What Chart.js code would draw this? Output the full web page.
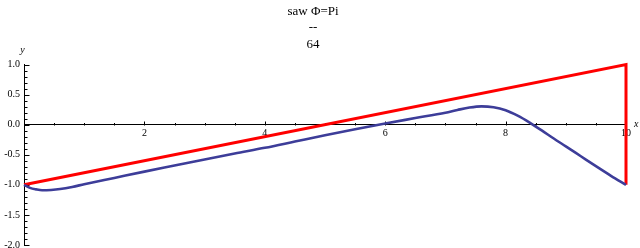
<!DOCTYPE html>
<html><head><meta charset="utf-8">
<script src="https://cdn.jsdelivr.net/npm/chart.js@4"></script>
<style>html,body{margin:0;padding:0;background:#fff}</style>
</head><body>
<canvas id="c" width="640" height="248"></canvas>
<script>
// ---- data ----
const titleLines = ['saw \u03A6=Pi', '--', '64'];
const sawX = [0, 10, 10];
const sawY = [-1, 1, -1];
const filtX = [0, 0.1, 0.2, 0.3, 0.45, 0.6, 0.8, 1.0, 1.5, 2.0, 2.5, 3.0, 3.5, 4.0, 4.5, 5.0, 5.5, 6.0, 6.5, 7.0, 7.2, 7.4, 7.6, 7.8, 8.0, 8.2, 8.4, 8.6, 8.8, 9.0, 9.25, 9.5, 9.75, 10];
const filtY = [-1.00, -1.05, -1.075, -1.09, -1.085, -1.07, -1.035, -0.99, -0.885, -0.78, -0.68, -0.58, -0.48, -0.385, -0.28, -0.175, -0.075, 0.02, 0.11, 0.2, 0.245, 0.285, 0.305, 0.29, 0.24, 0.15, 0.035, -0.095, -0.23, -0.36, -0.525, -0.69, -0.85, -1.00];
const xTickLabels = [2, 4, 6, 8, 10];
const yTickLabels = [1.0, 0.5, 0.0, -0.5, -1.0, -1.5, -2.0];
const axisNames = ['x', 'y'];

const near = (a, b) => Math.abs(a - b) < 1e-6;
const isXMajor = v => xTickLabels.some(t => near(t, v));
const isYMajor = v => yTickLabels.some(t => near(t, v));

const axisDecor = {
  id: 'axisDecor',
  beforeDatasetsDraw(chart) {
    const ctx = chart.ctx, xs = chart.scales.x, ys = chart.scales.y;
    const y0 = Math.round(ys.getPixelForValue(0)) + 0.5;
    const x0 = Math.round(xs.getPixelForValue(0)) + 0.5;
    ctx.save();
    ctx.strokeStyle = '#000';
    ctx.lineWidth = 1;
    ctx.beginPath();
    xs.ticks.forEach(t => {
      if (near(t.value, 0)) return;
      const px = Math.round(xs.getPixelForValue(t.value)) + 0.5;
      const len = isXMajor(t.value) ? 4 : 2.5;
      ctx.moveTo(px, y0); ctx.lineTo(px, y0 - len);
    });
    ys.ticks.forEach(t => {
      const py = Math.round(ys.getPixelForValue(t.value)) + 0.5;
      const len = isYMajor(t.value) ? 5 : 3;
      ctx.moveTo(x0, py); ctx.lineTo(x0 + len, py);
    });
    ctx.stroke();
    ctx.fillStyle = '#000';
    ctx.font = 'italic 10px "Liberation Serif"';
    ctx.textBaseline = 'middle';
    ctx.textAlign = 'left';
    ctx.fillText(axisNames[0], xs.right + 8, y0 - 1);
    ctx.textAlign = 'center';
    ctx.fillText(axisNames[1], x0 - 2, ys.top - 14);
    ctx.restore();
  }
};

new Chart(document.getElementById('c'), {
  type: 'scatter',
  data: {
    datasets: [
      {
        data: filtX.map((x, i) => ({x, y: filtY[i]})),
        showLine: true, borderColor: '#3d3d99', borderWidth: 2.6,
        pointRadius: 0, cubicInterpolationMode: 'monotone', clip: false
      },
      {
        data: sawX.map((x, i) => ({x, y: sawY[i]})),
        showLine: true, borderColor: '#ff0000', borderWidth: 3,
        pointRadius: 0, tension: 0, clip: false
      }
    ]
  },
  options: {
    responsive: false, animation: false, devicePixelRatio: 1,
    layout: {padding: {left: 0, right: 14, top: 0, bottom: 3}},
    plugins: {
      legend: {display: false}, tooltip: {enabled: false},
      title: {
        display: true, text: titleLines, color: '#000',
        font: {family: '"Liberation Serif"', size: 13, weight: 'normal', lineHeight: 1.27},
        padding: {top: 3, bottom: 12}
      }
    },
    scales: {
      x: {
        type: 'linear', min: 0, max: 10, position: {y: 0},
        grid: {display: false, drawTicks: false},
        border: {display: true, color: '#000', width: 1},
        ticks: {
          stepSize: 0.5, autoSkip: false, maxRotation: 0, padding: 3, color: '#000',
          font: {family: '"Liberation Serif"', size: 10},
          callback: v => isXMajor(v) ? String(Math.round(v)) : ''
        },
        afterFit: s => { s.paddingLeft = 0; s.paddingRight = 0; }
      },
      y: {
        type: 'linear', min: -2, max: 1,
        grid: {display: false, drawTicks: false},
        border: {display: true, color: '#000', width: 1},
        ticks: {
          stepSize: 0.1, autoSkip: false, padding: 4, color: '#000',
          font: {family: '"Liberation Serif"', size: 10},
          callback: v => isYMajor(v) ? (Math.round(v * 10) / 10).toFixed(1) : ''
        },
        afterFit: s => { s.width = 24; s.paddingTop = 0; s.paddingBottom = 0; }
      }
    }
  },
  plugins: [axisDecor]
});
</script>
</body></html>
